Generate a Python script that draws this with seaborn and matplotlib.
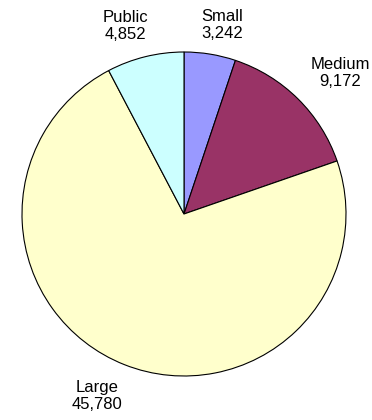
import matplotlib
matplotlib.use("Agg")
import matplotlib.pyplot as plt
import seaborn as sns

categories = ["Small", "Medium", "Large", "Public"]
values = [3242, 9172, 45780, 4852]
colors = ["#9999FF", "#993366", "#FFFFCC", "#CCFFFF"]

# label anchor positions (in pie-radius units), layout only
label_pos = [(0.235, 1.167), (0.963, 0.870), (-0.534, -1.123), (-0.364, 1.160)]

sns.set_theme(style="white")
plt.rcParams["font.family"] = ["Liberation Sans", "DejaVu Sans"]

fig = plt.figure(figsize=(3.72, 4.2), dpi=100)
ax = fig.add_axes([22 / 372, 44 / 420, 324 / 372, 324 / 420])

wedges, _ = ax.pie(
    values,
    colors=colors,
    startangle=90,
    counterclock=False,
    wedgeprops=dict(edgecolor="black", linewidth=0.8),
)
for c, v, (x, y) in zip(categories, values, label_pos):
    ax.text(x, y, f"{c}\n{v:,}", ha="center", va="center", fontsize=12,
            linespacing=1.2, color="black", clip_on=False)

ax.set_xlim(-1, 1)
ax.set_ylim(-1, 1)
ax.set_aspect("equal")
ax.axis("off")
fig.savefig("out.png", dpi=100)
